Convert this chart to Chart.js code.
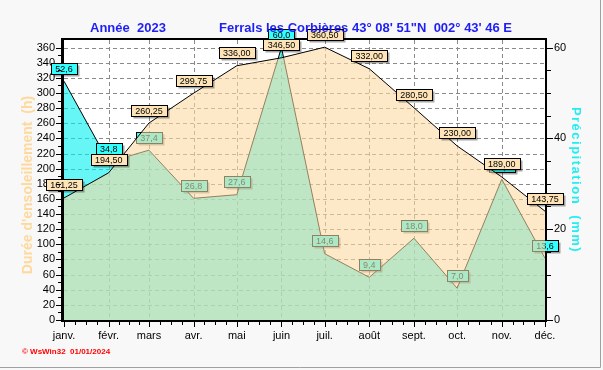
<!DOCTYPE html>
<html lang="fr">
<head>
<meta charset="utf-8">
<title>Ensoleillement et précipitations 2023</title>
<script src="https://cdn.jsdelivr.net/npm/chart.js@4.4.1/dist/chart.umd.min.js"></script>
<style>
    html, body { margin: 0; padding: 0; background: #fff; }
    #wrap { width: 603px; height: 370px; }
</style>
</head>
<body>
<div id="wrap"><canvas id="chart" width="603" height="370"></canvas></div>
<script>
// monthly values (Ferrals les Corbières, 2023)
const months = ['janv.', 'févr.', 'mars', 'avr.', 'mai', 'juin', 'juil.', 'août', 'sept.', 'oct.', 'nov.', 'déc.'];
const sunshineHours = [161.25, 194.50, 260.25, 299.75, 336.00, 346.50, 360.50, 332.00, 280.50, 230.00, 189.00, 143.75];
const rainMm = [52.6, 34.8, 37.4, 26.8, 27.6, 60.0, 14.6, 9.4, 18.0, 7.0, 31.0, 13.6];
const hourTicks = [0, 20, 40, 60, 80, 100, 120, 140, 160, 180, 200, 220, 240, 260, 280, 300, 320, 340, 360];
const rainTicks = [0, 20, 40, 60];

// x axis is a day line: day of the year for the 1st of each month
const monthStart = months.map((m, i) => (Date.UTC(2023, i, 1) - Date.UTC(2023, 0, 1)) / 86400000);

const FONT = 'Liberation Sans';
Chart.defaults.font.family = FONT;
Chart.defaults.font.size = 11;
Chart.defaults.color = '#000';

function fmt(v, digits) {
    return v.toFixed(digits).replace('.', ',');
}

// little boxed value labels above each point
function drawValueLabels(chart, index, values, digits, fill) {
    const ctx = chart.ctx;
    const meta = chart.getDatasetMeta(index);
    ctx.save();
    ctx.font = '9px ' + FONT;
    ctx.textAlign = 'center';
    ctx.textBaseline = 'middle';
    meta.data.forEach((pt, i) => {
        const text = fmt(values[i], digits);
        const w = Math.round(ctx.measureText(text).width) + 8;
        const h = 11;
        const x = Math.round(pt.x - w / 2) + 0.5;
        const y = Math.round(pt.y - 13 - h / 2) + 0.5;
        ctx.fillStyle = 'rgba(0, 0, 0, 0.35)';
        ctx.fillRect(x + 2, y + 2, w, h);
        ctx.fillStyle = fill;
        ctx.fillRect(x, y, w, h);
        ctx.strokeStyle = '#000';
        ctx.lineWidth = 1;
        ctx.strokeRect(x, y, w, h);
        ctx.fillStyle = '#000';
        ctx.fillText(text, pt.x, y + h / 2 + 0.5);
    });
    ctx.restore();
}

// dashed grid at the hour ticks and month starts, dashes as small rects
function drawGrid(chart) {
    const {ctx, chartArea: a, scales} = chart;
    const dash = 4, gap = 3;
    ctx.save();
    ctx.fillStyle = '#8a8a8a';
    for (const v of hourTicks) {
        if (v === 0) continue;
        const py = Math.round(scales.y.getPixelForValue(v));
        for (let x = a.left; x < a.right; x += dash + gap) {
            ctx.fillRect(x, py, Math.min(dash, a.right - x), 1);
        }
    }
    for (let i = 1; i < monthStart.length - 1; i++) {
        const px = Math.round(scales.x.getPixelForValue(monthStart[i]));
        for (let y = a.top; y < a.bottom; y += dash + gap) {
            ctx.fillRect(px, y, 1, Math.min(dash, a.bottom - y));
        }
    }
    ctx.restore();
}

function drawFrame(chart) {
    const {ctx, chartArea: a} = chart;
    ctx.save();
    ctx.strokeStyle = '#000';
    ctx.lineWidth = 3;
    ctx.beginPath();
    ctx.moveTo(a.left - 1.5, a.top - 2);
    ctx.lineTo(a.left - 1.5, a.bottom + 2);
    ctx.stroke();
    ctx.lineWidth = 2;
    ctx.beginPath();
    ctx.moveTo(a.left - 3, a.bottom + 1);
    ctx.lineTo(a.right + 2, a.bottom + 1);
    ctx.moveTo(a.right + 1, a.bottom + 2);
    ctx.lineTo(a.right + 1, a.top - 2);
    ctx.moveTo(a.right + 2, a.top - 1);
    ctx.lineTo(a.left - 3, a.top - 1);
    ctx.stroke();
    ctx.restore();
}

function drawTickMarks(chart) {
    const {ctx, chartArea: a, scales} = chart;
    ctx.save();
    ctx.strokeStyle = '#000';
    ctx.lineWidth = 1;
    ctx.beginPath();
    // x: month starts long, quarter months short
    for (let i = 0; i < monthStart.length; i++) {
        const px = Math.round(scales.x.getPixelForValue(monthStart[i])) + 0.5;
        ctx.moveTo(px, a.bottom + 2);
        ctx.lineTo(px, a.bottom + 7);
        if (i < monthStart.length - 1) {
            const span = monthStart[i + 1] - monthStart[i];
            for (let k = 1; k < 4; k++) {
                const q = Math.round(scales.x.getPixelForValue(monthStart[i] + span * k / 4)) + 0.5;
                ctx.moveTo(q, a.bottom + 2);
                ctx.lineTo(q, a.bottom + 5);
            }
        }
    }
    // left: every 10 h
    for (let v = 0; v <= 360; v += 10) {
        const py = Math.round(scales.y.getPixelForValue(v)) + 0.5;
        const len = v % 20 === 0 ? 5 : 3;
        ctx.moveTo(a.left - 3, py);
        ctx.lineTo(a.left - 3 - len, py);
    }
    // right: every 5 mm
    for (let v = 0; v <= 60; v += 5) {
        const py = Math.round(scales.y1.getPixelForValue(v)) + 0.5;
        const len = v % 20 === 0 ? 6 : 4;
        ctx.moveTo(a.right + 2, py);
        ctx.lineTo(a.right + 2 + len, py);
    }
    ctx.stroke();
    ctx.restore();
}

const decorations = {
    id: 'decorations',
    beforeDraw(chart) {
        const {ctx, chartArea: a, width, height} = chart;
        ctx.save();
        ctx.fillStyle = '#f8f8f8';
        ctx.fillRect(0, 0, width, height);
        ctx.fillStyle = '#ffffff';
        ctx.fillRect(a.left, a.top, a.right - a.left, a.bottom - a.top);
        ctx.restore();
        drawGrid(chart);
    },
    afterDatasetDraw(chart, args) {
        // rain labels go under the sunshine area, so they get its tint
        if (args.index === 1) {
            drawFrame(chart);
            drawValueLabels(chart, 1, rainMm, 1, '#33ffff');
        }
    },
    afterDatasetsDraw(chart) {
        drawValueLabels(chart, 0, sunshineHours, 2, '#ffe4b8');
    },
    afterDraw(chart) {
        const {ctx, width, height} = chart;
        drawTickMarks(chart);
        ctx.save();
        // titles
        ctx.fillStyle = '#1e1ef5';
        ctx.font = 'bold 13px ' + FONT;
        ctx.textBaseline = 'alphabetic';
        ctx.fillText('Année  2023', 90, 32);
        ctx.fillText('Ferrals les Corbières 43° 08\' 51"N  002° 43\' 46 E', 219, 32);

        // left axis title
        ctx.save();
        ctx.translate(28, 185);
        ctx.rotate(-Math.PI / 2);
        ctx.fillStyle = '#ffd89c';
        ctx.font = 'bold 14px ' + FONT;
        ctx.textAlign = 'center';
        ctx.textBaseline = 'middle';
        ctx.fillText("Durée d'ensoleillement  (h)", 0, 0);
        ctx.restore();

        // right axis title
        ctx.save();
        ctx.translate(576, 180);
        ctx.rotate(Math.PI / 2);
        ctx.fillStyle = '#22eef2';
        ctx.font = 'bold 13px ' + FONT;
        ctx.letterSpacing = '1.5px';
        ctx.textAlign = 'center';
        ctx.textBaseline = 'middle';
        ctx.fillText('Précipitation  (mm)', 0, 0);
        ctx.restore();

        // footer
        ctx.fillStyle = '#ff0000';
        ctx.font = 'bold 8px ' + FONT;
        ctx.fillText('© WsWin32  01/01/2024', 22, 354);

        // window edge
        ctx.strokeStyle = '#a0a0a0';
        ctx.lineWidth = 1;
        ctx.beginPath();
        ctx.moveTo(0, height - 2.5);
        ctx.lineTo(width - 2.5, height - 2.5);
        ctx.lineTo(width - 2.5, 0);
        ctx.stroke();
        ctx.restore();
    }
};

const toPoints = values => values.map((v, i) => ({x: monthStart[i], y: v}));

new Chart(document.getElementById('chart'), {
    type: 'line',
    data: {
        datasets: [{
            label: "Durée d'ensoleillement (h)",
            data: toPoints(sunshineHours),
            yAxisID: 'y',
            order: 0,
            borderColor: '#000',
            borderWidth: 1,
            backgroundColor: 'rgba(252, 218, 162, 0.59)',
            fill: 'origin',
            tension: 0,
            pointRadius: 0
        }, {
            label: 'Précipitation (mm)',
            data: toPoints(rainMm),
            yAxisID: 'y1',
            order: 1,
            borderColor: '#000',
            borderWidth: 1,
            backgroundColor: 'rgba(0, 240, 240, 0.6)',
            fill: 'origin',
            tension: 0,
            pointRadius: 0
        }]
    },
    options: {
        responsive: false,
        animation: false,
        layout: {padding: {top: 40, left: 0, right: 0, bottom: 0}},
        plugins: {
            legend: {display: false},
            tooltip: {enabled: false}
        },
        scales: {
            x: {
                type: 'linear',
                min: monthStart[0],
                max: monthStart[monthStart.length - 1],
                afterFit: s => { s.height = 50; },
                afterBuildTicks: s => { s.ticks = monthStart.map(v => ({value: v})); },
                ticks: {
                    autoSkip: false,
                    maxRotation: 0,
                    padding: 9,
                    callback: v => months[monthStart.indexOf(v)]
                },
                grid: {display: false, drawTicks: false},
                border: {display: false}
            },
            y: {
                position: 'left',
                min: 0,
                max: 370,
                afterFit: s => { s.width = 64; },
                afterBuildTicks: s => { s.ticks = hourTicks.map(v => ({value: v})); },
                ticks: {autoSkip: false, padding: 9},
                grid: {display: false, drawTicks: false},
                border: {display: false}
            },
            y1: {
                position: 'right',
                min: 0,
                max: 370 / 6,
                afterFit: s => { s.width = 58; },
                afterBuildTicks: s => { s.ticks = rainTicks.map(v => ({value: v})); },
                ticks: {autoSkip: false, padding: 9},
                grid: {display: false, drawTicks: false},
                border: {display: false}
            }
        }
    },
    plugins: [decorations]
});
</script>
</body>
</html>
